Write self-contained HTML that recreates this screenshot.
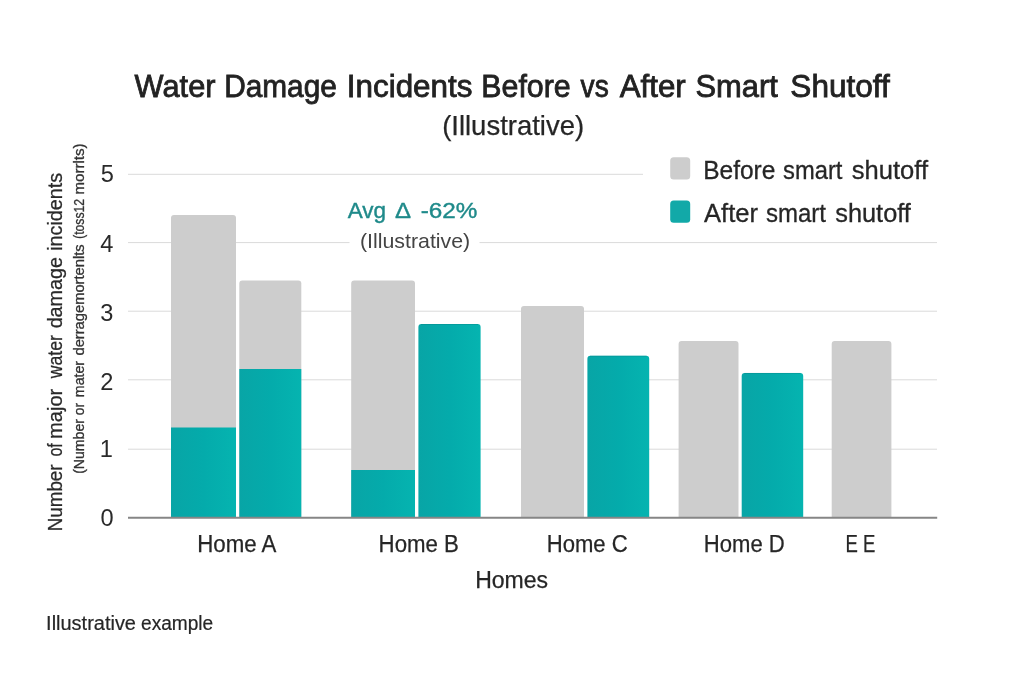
<!DOCTYPE html>
<html lang="en">
<head>
<meta charset="utf-8">
<title>Water Damage Incidents Before vs After Smart Shutoff</title>
<style>
  html, body { margin: 0; padding: 0; background: #ffffff; }
  body { width: 1024px; height: 683px; overflow: hidden; }
  svg { display: block; }
  text { font-family: "Liberation Sans", "DejaVu Sans", sans-serif; }
</style>
</head>
<body>
<svg width="1024" height="683" viewBox="0 0 1024 683">
  <defs>
    <linearGradient id="teal" x1="0" y1="0" x2="1" y2="0">
      <stop offset="0" stop-color="#08a5a6"/>
      <stop offset="0.5" stop-color="#04abab"/>
      <stop offset="1" stop-color="#05b4b0"/>
    </linearGradient>
  </defs>
  <rect x="0" y="0" width="1024" height="683" fill="#ffffff"/>

  <!-- gridlines -->
  <g stroke="#dadada" stroke-width="1">
    <line x1="128" y1="174.3" x2="643" y2="174.3"/>
    <line x1="128" y1="242.6" x2="937" y2="242.6"/>
    <line x1="128" y1="311.2" x2="937" y2="311.2"/>
    <line x1="128" y1="379.8" x2="937" y2="379.8"/>
    <line x1="128" y1="449.2" x2="937" y2="449.2"/>
  </g>
  <!-- annotation backdrop -->
  <rect x="349.5" y="236" width="130" height="14" fill="#ffffff"/>

  <!-- white gaps between paired bars -->
  <g fill="#ffffff">
    <rect x="235.5" y="281" width="4.3" height="236"/>
    <rect x="414.5" y="324.5" width="4.4" height="192.5"/>
    <rect x="583.5" y="356" width="4.4" height="161"/>
    <rect x="738" y="373.4" width="4.2" height="143.6"/>
  </g>

  <!-- gray bars -->
  <g fill="#cdcdcd">
    <path d="M171 517 V218 a3 3 0 0 1 3 -3 H233 a3 3 0 0 1 3 3 V517 Z"/>
    <path d="M239.3 517 V283.5 a3 3 0 0 1 3 -3 H298.3 a3 3 0 0 1 3 3 V517 Z"/>
    <path d="M351.2 517 V283.5 a3 3 0 0 1 3 -3 H412 a3 3 0 0 1 3 3 V517 Z"/>
    <path d="M521 517 V309 a3 3 0 0 1 3 -3 H581 a3 3 0 0 1 3 3 V517 Z"/>
    <path d="M678.6 517 V344 a3 3 0 0 1 3 -3 H735.5 a3 3 0 0 1 3 3 V517 Z"/>
    <path d="M831.7 517 V344 a3 3 0 0 1 3 -3 H888.4 a3 3 0 0 1 3 3 V517 Z"/>
  </g>
  <!-- teal bars -->
  <g fill="url(#teal)">
    <rect x="171" y="427.5" width="65" height="89.5"/>
    <rect x="239.3" y="369" width="62" height="148"/>
    <rect x="351.2" y="470" width="63.8" height="47"/>
    <path d="M418.4 517 V327 a3 3 0 0 1 3 -3 H477.6 a3 3 0 0 1 3 3 V517 Z"/>
    <path d="M587.4 517 V358.7 a3 3 0 0 1 3 -3 H646.2 a3 3 0 0 1 3 3 V517 Z"/>
    <path d="M741.7 517 V375.9 a3 3 0 0 1 3 -3 H800.2 a3 3 0 0 1 3 3 V517 Z"/>
  </g>

  <!-- subtle darker top edge on teal bars -->
  <g stroke="#067f80" stroke-opacity="0.35" stroke-width="1" fill="none">
    <line x1="421" y1="324.5" x2="478" y2="324.5"/>
    <line x1="590" y1="356.2" x2="646.6" y2="356.2"/>
    <line x1="744.3" y1="373.4" x2="800.6" y2="373.4"/>
  </g>

  <!-- x axis -->
  <line x1="128" y1="517.8" x2="937.2" y2="517.8" stroke="#868686" stroke-width="2"/>

  <!-- legend swatches -->
  <rect x="670.2" y="157.3" width="20" height="22.2" rx="3.5" ry="3.5" fill="#cdcdcd"/>
  <rect x="670.2" y="200.6" width="20" height="22.2" rx="3.5" ry="3.5" fill="#12a9a8"/>

  <!-- y tick labels -->
  <g font-size="23.6" fill="#2a2a2a" text-anchor="middle">
    <text x="107.2" y="181.6">5</text>
    <text x="106.9" y="251.6">4</text>
    <text x="106.9" y="320.9">3</text>
    <text x="106.8" y="390.1">2</text>
    <text x="106.2" y="456.6">1</text>
    <text x="107" y="526.2">0</text>
  </g>

  <!-- text labels -->
  <text font-size="30.9" fill="#222222" stroke="#222222" stroke-width="0.8"><tspan x="134.60" y="97.2" textLength="80.89" lengthAdjust="spacingAndGlyphs">Water</tspan> <tspan x="224.17" y="97.2" textLength="112.67" lengthAdjust="spacingAndGlyphs">Damage</tspan> <tspan x="346.77" y="97.2" textLength="125.69" lengthAdjust="spacingAndGlyphs">Incidents</tspan> <tspan x="481.34" y="97.2" textLength="89.32" lengthAdjust="spacingAndGlyphs">Before</tspan> <tspan x="580.60" y="97.2" textLength="28.11" lengthAdjust="spacingAndGlyphs">vs</tspan> <tspan x="619.70" y="97.2" textLength="65.99" lengthAdjust="spacingAndGlyphs">After</tspan> <tspan x="695.50" y="97.2" textLength="82.38" lengthAdjust="spacingAndGlyphs">Smart</tspan> <tspan x="790.38" y="97.2" textLength="99.39" lengthAdjust="spacingAndGlyphs">Shutoff</tspan></text>
  <text font-size="28.0" fill="#262626" stroke="#262626" stroke-width="0.25"><tspan x="442.14" y="135.2" textLength="142.03" lengthAdjust="spacingAndGlyphs">(Illustrative)</tspan></text>
  <text font-size="25.0" fill="#262626" stroke="#262626" stroke-width="0.3"><tspan x="703.19" y="178.7" textLength="72.14" lengthAdjust="spacingAndGlyphs">Before</tspan> <tspan x="783.05" y="178.7" textLength="59.35" lengthAdjust="spacingAndGlyphs">smart</tspan> <tspan x="851.75" y="178.7" textLength="76.24" lengthAdjust="spacingAndGlyphs">shutoff</tspan></text>
  <text font-size="25.0" fill="#262626" stroke="#262626" stroke-width="0.3"><tspan x="704.05" y="221.8" textLength="53.93" lengthAdjust="spacingAndGlyphs">After</tspan> <tspan x="765.95" y="221.8" textLength="60.05" lengthAdjust="spacingAndGlyphs">smart</tspan> <tspan x="835.25" y="221.8" textLength="75.65" lengthAdjust="spacingAndGlyphs">shutoff</tspan></text>
  <text font-size="22.0" fill="#1f8a8a" stroke="#1f8a8a" stroke-width="0.4"><tspan x="347.70" y="217.8" textLength="38.36" lengthAdjust="spacingAndGlyphs">Avg</tspan> <tspan x="395.10" y="217.8" textLength="14.70" lengthAdjust="spacingAndGlyphs">Δ</tspan> <tspan x="420.70" y="217.8" textLength="56.72" lengthAdjust="spacingAndGlyphs">-62%</tspan></text>
  <text font-size="20.6" fill="#444444"><tspan x="359.96" y="247.6" textLength="110.22" lengthAdjust="spacingAndGlyphs">(Illustrative)</tspan></text>
  <text font-size="19.6" fill="#2a2a2a" stroke="#2a2a2a" stroke-width="0.25" transform="translate(61.5 0) rotate(-90)"><tspan x="-531.34" y="0" textLength="66.95" lengthAdjust="spacingAndGlyphs">Number</tspan> <tspan x="-456.57" y="0" textLength="13.39" lengthAdjust="spacingAndGlyphs">of</tspan> <tspan x="-438.90" y="0" textLength="50.09" lengthAdjust="spacingAndGlyphs">major</tspan> <tspan x="-378.37" y="0" textLength="43.32" lengthAdjust="spacingAndGlyphs">water</tspan> <tspan x="-328.38" y="0" textLength="71.35" lengthAdjust="spacingAndGlyphs">damage</tspan> <tspan x="-250.89" y="0" textLength="78.16" lengthAdjust="spacingAndGlyphs">incidents</tspan></text>
  <text font-size="13.8" fill="#333333" stroke="#333333" stroke-width="0.3" transform="translate(83.7 0) rotate(-90)"><tspan x="-473.85" y="0" textLength="54.79" lengthAdjust="spacingAndGlyphs">(Number</tspan> <tspan x="-415.15" y="0" textLength="12.29" lengthAdjust="spacingAndGlyphs">or</tspan> <tspan x="-397.15" y="0" textLength="36.18" lengthAdjust="spacingAndGlyphs">mater</tspan> <tspan x="-355.55" y="0" textLength="111.19" lengthAdjust="spacingAndGlyphs">derragemortenlts</tspan> <tspan x="-238.85" y="0" textLength="39.79" lengthAdjust="spacingAndGlyphs">(toss12</tspan> <tspan x="-194.55" y="0" textLength="51.15" lengthAdjust="spacingAndGlyphs">morrlts)</tspan></text>
  <text font-size="24.1" fill="#262626" stroke="#262626" stroke-width="0.25"><tspan x="197.21" y="551.9" textLength="79.21" lengthAdjust="spacingAndGlyphs">Home A</tspan></text>
  <text font-size="24.1" fill="#262626" stroke="#262626" stroke-width="0.25"><tspan x="378.60" y="551.9" textLength="80.36" lengthAdjust="spacingAndGlyphs">Home B</tspan></text>
  <text font-size="24.1" fill="#262626" stroke="#262626" stroke-width="0.25"><tspan x="546.71" y="551.9" textLength="80.93" lengthAdjust="spacingAndGlyphs">Home C</tspan></text>
  <text font-size="24.1" fill="#262626" stroke="#262626" stroke-width="0.25"><tspan x="703.81" y="551.9" textLength="80.93" lengthAdjust="spacingAndGlyphs">Home D</tspan></text>
  <text font-size="24.1" fill="#262626" stroke="#262626" stroke-width="0.25"><tspan x="845.56" y="551.9" textLength="29.87" lengthAdjust="spacingAndGlyphs">E E</tspan></text>
  <text font-size="24.3" fill="#262626" stroke="#262626" stroke-width="0.25"><tspan x="475.13" y="587.7" textLength="72.99" lengthAdjust="spacingAndGlyphs">Homes</tspan></text>
  <text font-size="19.5" fill="#262626" stroke="#262626" stroke-width="0.2"><tspan x="46.08" y="629.8" textLength="89.89" lengthAdjust="spacingAndGlyphs">Illustrative</tspan> <tspan x="141.00" y="629.8" textLength="72.23" lengthAdjust="spacingAndGlyphs">example</tspan></text>
</svg>
</body>
</html>
